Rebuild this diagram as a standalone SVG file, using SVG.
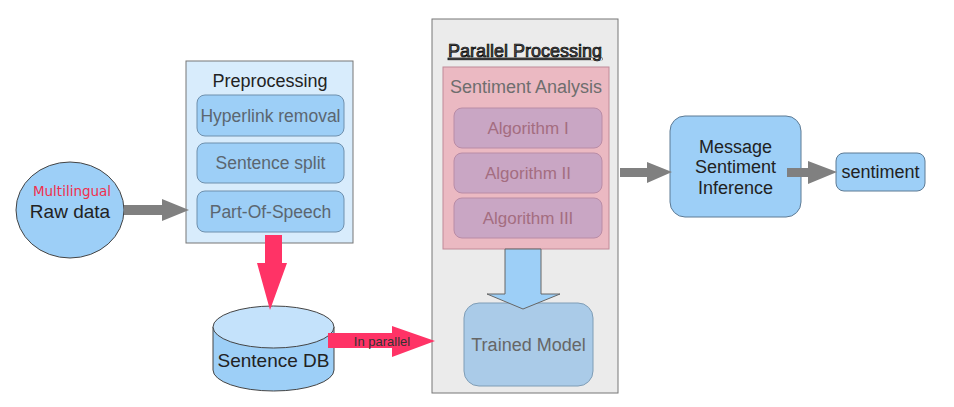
<svg xmlns="http://www.w3.org/2000/svg" width="954" height="407" viewBox="0 0 954 407">
<style>
text{font-family:"Liberation Sans",Arial,sans-serif;text-anchor:middle}
.box{fill:#9dcff7;stroke:#5d7a94;stroke-width:1}
.sub{fill:#9dcff7;stroke:#6f90ad;stroke-width:1}
.subt{font-size:17.5px;fill:#5b6670}
.alg{fill:#c9a6c4;stroke:#b98ca6;stroke-width:1}
.algt{font-size:17px;fill:#a46d80}
.gray{fill:#808080}
.red{fill:#ff3366}
.dark{font-size:18px;fill:#222}
</style>
<rect width="954" height="407" fill="#fff"/>
<g id="raw-data">
<ellipse cx="70" cy="210" rx="54" ry="48" fill="#9dcff7" stroke="#444" stroke-width="1"/>
<text x="72" y="196" style="font-family:'DejaVu Sans',sans-serif;font-size:13.5px;fill:#f0304e">Multilingual</text>
<text x="70" y="218" class="dark" style="font-size:19px">Raw data</text>
</g>
<g id="preprocessing">
<rect x="186" y="61" width="167" height="182" fill="#d8ecfc" stroke="#777" stroke-width="1"/>
<text x="270" y="87" class="dark">Preprocessing</text>
<rect x="197" y="95" width="147" height="41" rx="8" class="sub"/>
<text x="270.5" y="122" class="subt">Hyperlink removal</text>
<rect x="197" y="143" width="147" height="40" rx="8" class="sub"/>
<text x="270.5" y="169" class="subt">Sentence split</text>
<rect x="197" y="191" width="147" height="41" rx="8" class="sub"/>
<text x="270.5" y="218" class="subt">Part-Of-Speech</text>
</g>
<g id="sentence-db">
<path d="M213,327 L213,370 A60.5,21 0 0 0 334,370 L334,327" fill="#9dcff7" stroke="#444" stroke-width="1"/>
<ellipse cx="273.5" cy="327" rx="60.5" ry="21" fill="#c4e2fb" stroke="#444" stroke-width="1"/>
<text x="273.5" y="367" class="dark" style="font-size:19px">Sentence DB</text>
</g>
<g id="parallel-processing">
<rect x="432" y="19" width="186" height="374" fill="#ebebeb" stroke="#777" stroke-width="1"/>
<text x="525" y="57" style="font-size:18px;fill:#555;stroke:#000;stroke-width:0.7;text-decoration:underline">Parallel Processing</text>
</g>
<g id="sentiment-analysis">
<rect x="443" y="67" width="166" height="182" fill="#ebb9c2" stroke="#c08a98" stroke-width="1"/>
<text x="526" y="93" style="font-size:18px;fill:#6e6e6e">Sentiment Analysis</text>
<rect x="454" y="108" width="148" height="40" rx="8" class="alg"/>
<text x="528" y="134" class="algt">Algorithm I</text>
<rect x="454" y="153" width="148" height="40" rx="8" class="alg"/>
<text x="528" y="179" class="algt">Algorithm II</text>
<rect x="454" y="198" width="148" height="40" rx="8" class="alg"/>
<text x="528" y="224" class="algt">Algorithm III</text>
</g>
<g id="trained-model">
<rect x="464" y="303" width="129" height="83" rx="15" fill="#aacbe8" stroke="#7f9db6" stroke-width="1"/>
<text x="528.5" y="351" style="font-size:18px;fill:#666">Trained Model</text>
</g>
<g id="message-sentiment-inference">
<rect x="670" y="116" width="131" height="101" rx="15" class="box"/>
<text x="735.5" y="153" class="dark">Message</text>
<text x="735.5" y="173" class="dark">Sentiment</text>
<text x="735.5" y="194" class="dark">Inference</text>
</g>
<g id="sentiment">
<rect x="836" y="153" width="89" height="38" rx="8" class="box"/>
<text x="880.5" y="178" class="dark">sentiment</text>
</g>
<g id="connectors">
<polygon class="gray" points="124,205 162,205 162,199 189,210 162,221 162,215 124,215"/>
<polygon class="red" points="265,235 282,235 282,263 287,263 270,310 257,263 265,263"/>
<polygon class="red" points="328,333 392,333 392,326 435,341 392,357 392,348 328,348"/>
<text x="382" y="346" style="font-size:13px;fill:#333">In parallel</text>
<polygon points="505,249 541,249 541,294 560,294 523,309 487,294 505,294" fill="#9dcff7" stroke="#666" stroke-width="1"/>
<polygon class="gray" points="620,168 647,168 647,162 672,172 647,183 647,177 620,177"/>
<polygon class="gray" points="787,168 808,168 808,161 837,172 808,184 808,177 787,177"/>
</g>
</svg>
